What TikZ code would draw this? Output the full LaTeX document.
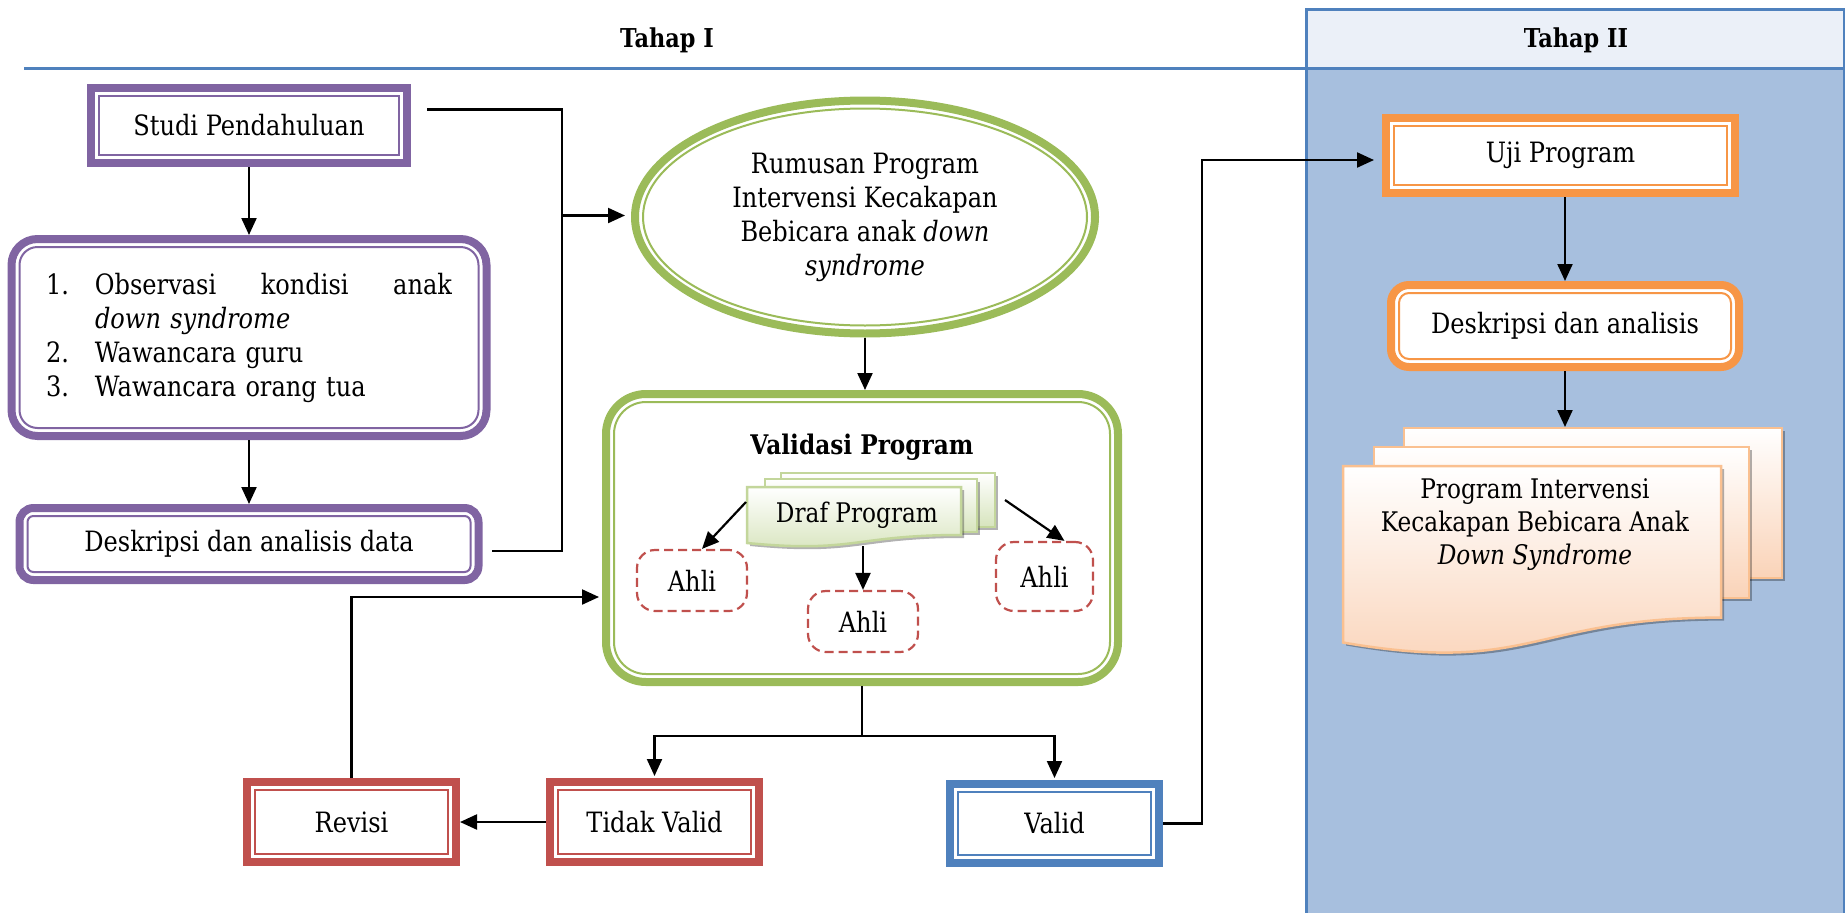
\documentclass[tikz,border=0pt]{standalone}
\usepackage{fontspec}
\setmainfont{DejaVu Serif}[FakeStretch=0.86]
\usepackage{tikz}
\usetikzlibrary{arrows.meta,positioning,shapes.geometric,calc}

\definecolor{purp}{HTML}{8064A2}
\definecolor{grn}{HTML}{9BBB59}
\definecolor{redc}{HTML}{C0504D}
\definecolor{bluec}{HTML}{4F81BD}
\definecolor{orng}{HTML}{F79646}
\definecolor{lanebg}{HTML}{A7BFDE}
\definecolor{lanehd}{HTML}{EBF0F8}
\definecolor{drafline}{HTML}{C3D69B}
\definecolor{draffill}{HTML}{D7E4BD}
\definecolor{progline}{HTML}{FAC090}
\definecolor{progfill}{HTML}{FAD3B8}

\begin{document}
\begin{tikzpicture}[
  x=1pt, y=-1pt,
  txt/.style={font=\fontsize{28}{34}\selectfont},
  laneTitle/.style={font=\fontsize{26}{30}\selectfont\bfseries},
  dbox/.style={draw=#1, line width=8pt, fill=white, txt, inner sep=0pt},
  ahli/.style={draw=redc, dash pattern=on 9pt off 5pt, line width=2.2pt,
               rounded corners=18pt, fill=white, txt},
  sheet/.style={draw=#1, line width=2.5pt, top color=white},
  dropsh/.style={fill=black, opacity=.3},
  arr/.style={-{Triangle[length=17pt,width=15pt]}, line width=2.2pt},
  ln/.style={line width=2.2pt}
]
\useasboundingbox (0,0) rectangle (1845,913);

% lanes
\fill[lanehd] (1306,9) rectangle (1844,68);
\fill[lanebg] (1306,68) rectangle (1845,913);
\draw[bluec, line width=3pt] (1306,913) -- (1306,9) -- (1844,9) -- (1844,913);
\draw[bluec, line width=3pt] (24,68) -- (1844,68);
\node[laneTitle] (tahap1) at (667,40) {Tahap I};
\node[laneTitle] (tahap2) at (1576,40) {Tahap II};

% tahap I, left column
\node[dbox=purp, minimum width=316pt, minimum height=75pt] (studi) at (249,125.5) {Studi Pendahuluan};
\node[dbox=purp, rounded corners=26pt, minimum width=475pt, minimum height=197pt,
      text width=406pt, align=left, below=68pt of studi] (obs)
  {\makebox[49pt][l]{1.}\makebox[357pt]{Observasi\hfill kondisi\hfill anak}\\
   \hspace*{49pt}\textit{down syndrome}\\
   \makebox[49pt][l]{2.}Wawancara guru\\
   \makebox[49pt][l]{3.}Wawancara orang tua};
\node[dbox=purp, rounded corners=14pt, minimum width=459pt, minimum height=72pt,
      below=64pt of obs] (desk) {Deskripsi dan analisis data};

% tahap I, middle
\node[ellipse, draw=grn, line width=8pt, fill=white, inner sep=0pt,
      minimum width=460pt, minimum height=233pt, align=center, txt] (rumus) at (865,217)
  {Rumusan Program\\Intervensi Kecakapan\\Bebicara anak \textit{down}\\\textit{syndrome}};
\node[dbox=grn, rounded corners=40pt, minimum width=512pt, minimum height=288pt] (validasi) at (862,538) {};
\node[laneTitle, font=\fontsize{27}{30}\selectfont\bfseries] (vtitle) at (862,447) {Validasi Program};

% draf program stack
\foreach \sx/\sy/\sw/\sh in {781/473/214/54, 765/479/212/53}{
  \fill[dropsh] (\sx+3,\sy+3) rectangle ++(\sw,\sh);
  \draw[sheet=drafline, bottom color=draffill] (\sx,\sy) rectangle ++(\sw,\sh);
}
\fill[dropsh, shift={(3,3)}] (747,487) -- (961,487) -- (961,535) .. controls (854,535) and (854,553.5) .. (747,543) -- cycle;
\draw[sheet=drafline, bottom color=draffill] (747,487) -- (961,487) -- (961,535) .. controls (854,535) and (854,553.5) .. (747,543) -- cycle;
\node[font=\fontsize{27}{30}\selectfont] (draf) at (857,515) {Draf Program};

\node[ahli, minimum width=110pt, minimum height=61pt] (ahli1) at (692,580.5) {Ahli};
\node[ahli, minimum width=110pt, minimum height=61pt] (ahli2) at (863,621.5) {Ahli};
\node[ahli, minimum width=97pt, minimum height=69pt] (ahli3) at (1044.5,576.5) {Ahli};

% bottom row
\node[dbox=redc, minimum width=209pt, minimum height=80pt] (tidak) at (654.5,822) {Tidak Valid};
\node[dbox=redc, minimum width=209pt, minimum height=80pt, left=86pt of tidak] (revisi) {Revisi};
\node[dbox=bluec, minimum width=209pt, minimum height=79pt] (valid) at (1054.5,823.5) {Valid};

% tahap II
\node[dbox=orng, minimum width=349pt, minimum height=75pt] (uji) at (1560.5,155.5) {Uji Program};
\node[dbox=orng, rounded corners=18pt, minimum width=348pt, minimum height=82pt] (deskR) at (1565,326) {Deskripsi dan analisis};

\foreach \sx/\sy/\sw/\sh in {1404/428/378/150, 1374/447/375/151}{
  \fill[dropsh] (\sx+3,\sy+3) rectangle ++(\sw,\sh);
  \draw[sheet=progline, bottom color=progfill] (\sx,\sy) rectangle ++(\sw,\sh);
}
\fill[dropsh, shift={(3,3)}] (1343,466) -- (1721,466) -- (1721,617.6) .. controls (1532,617.6) and (1532,675.3) .. (1343,642.5) -- cycle;
\draw[sheet=progline, bottom color=progfill] (1343,466) -- (1721,466) -- (1721,617.6) .. controls (1532,617.6) and (1532,675.3) .. (1343,642.5) -- cycle;
\node[txt, align=center, font=\fontsize{27}{33}\selectfont] (prog) at (1535,525)
  {Program Intervensi\\Kecakapan Bebicara Anak\\\textit{Down Syndrome}};

% inner lines of the double frames
\foreach \n/\c/\r in {studi/purp/0, obs/purp/18, desk/purp/6, validasi/grn/32,
                      revisi/redc/0, tidak/redc/0, valid/bluec/0, uji/orng/0, deskR/orng/10}
  \draw[\c, line width=2pt, rounded corners=\r pt]
    ([shift={(12pt,12pt)}]\n.south west) rectangle ([shift={(-12pt,-12pt)}]\n.north east);
\draw[grn, line width=2pt] let \p1=(rumus.east), \p2=(rumus.north), \p3=(rumus.center) in
  (rumus.center) ellipse ({\x1-\x3-12pt} and {\y2-\y3-12pt});

% connectors
\coordinate (jn) at (562,215.5);
\coordinate (dL) at (746,502);
\coordinate (dM) at (863,546);
\coordinate (dR) at (1005,500);
\coordinate (progtop) at (1565,427);
\coordinate (fork) at ($(validasi.south)+(0,50)$);

\draw[arr] (studi) -- (obs);
\draw[arr] (obs) -- (desk);
\draw[ln, shorten <=16pt, shorten >=9pt] ([yshift=16pt]studi.east) -| (jn) |- ([yshift=-7pt]desk.east);
\draw[arr, shorten >=6pt] (jn) -- (jn -| rumus.west);
\draw[arr] (rumus.south) -- (rumus.south |- validasi.north);
\draw[arr] (dL) -- ([xshift=10pt]ahli1.north);
\draw[arr] (dM) -- (ahli2.north);
\draw[arr] (dR) -- ([xshift=20pt]ahli3.north);
\draw[ln] (validasi.south) -- (fork);
\draw[arr, shorten >=2pt] (fork) -| (tidak.north);
\draw[arr, shorten >=2pt] (fork) -| (valid.north);
\draw[arr] (tidak) -- (revisi);
\draw[arr, shorten >=3pt] (revisi.north) |- ([yshift=-59pt]validasi.west);
\draw[arr, shorten >=8pt] (valid.east) -- ++(39,0) |- ([yshift=-4.5pt]uji.west);
\draw[arr] (uji.south -| deskR.north) -- (deskR.north);
\draw[arr] (deskR.south) -- (progtop);
\end{tikzpicture}
\end{document}
